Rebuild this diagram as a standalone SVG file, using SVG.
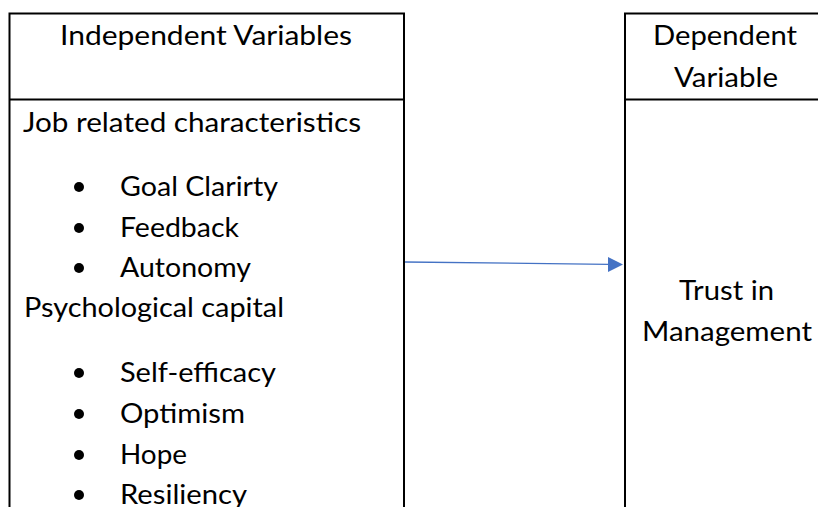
<svg xmlns="http://www.w3.org/2000/svg" width="818" height="507" viewBox="0 0 818 507">
<style>
.t{font-family:Lato,"Open Sans","Liberation Sans",sans-serif;font-size:27px;fill:#000}
.m{text-anchor:middle}
.b{stroke:#000;stroke-width:2;fill:none}
</style>
<rect width="818" height="507" fill="#fff"/>
<g id="independent">
<path class="b" d="M9.5,520 V13.5 H404 V520 M9.5,99.5 H404"/>
<text class="t m" x="206" y="45" textLength="292" lengthAdjust="spacingAndGlyphs">Independent Variables</text>
<text class="t" x="23" y="131.5" textLength="338" lengthAdjust="spacingAndGlyphs">Job related characteristics</text>
<g fill="#000">
<circle cx="79" cy="187" r="5"/>
<circle cx="79" cy="228" r="5"/>
<circle cx="79" cy="268" r="5"/>
<circle cx="79" cy="373" r="5"/>
<circle cx="79" cy="414" r="5"/>
<circle cx="79" cy="455" r="5"/>
<circle cx="79" cy="495" r="5"/>
</g>
<text class="t" x="120" y="196" textLength="158" lengthAdjust="spacingAndGlyphs">Goal Clarirty</text>
<text class="t" x="120" y="237" textLength="119" lengthAdjust="spacingAndGlyphs">Feedback</text>
<text class="t" x="120" y="277" textLength="131" lengthAdjust="spacingAndGlyphs">Autonomy</text>
<text class="t" x="24" y="316.5" textLength="260" lengthAdjust="spacingAndGlyphs">Psychological capital</text>
<text class="t" x="120" y="382" textLength="156" lengthAdjust="spacingAndGlyphs">Self-efficacy</text>
<text class="t" x="120" y="423" textLength="125" lengthAdjust="spacingAndGlyphs">Optimism</text>
<text class="t" x="120" y="463.5" textLength="67" lengthAdjust="spacingAndGlyphs">Hope</text>
<text class="t" x="120" y="504" textLength="127" lengthAdjust="spacingAndGlyphs">Resiliency</text>
</g>
<g id="dependent">
<path class="b" d="M625,520 V13.5 H830 M625,99.5 H830"/>
<text class="t m" x="725" y="45" textLength="144" lengthAdjust="spacingAndGlyphs">Dependent</text>
<text class="t m" x="726" y="87" textLength="104" lengthAdjust="spacingAndGlyphs">Variable</text>
<text class="t m" x="726.5" y="299.5" textLength="95" lengthAdjust="spacingAndGlyphs">Trust in</text>
<text class="t m" x="727" y="341" textLength="170" lengthAdjust="spacingAndGlyphs">Management</text>
</g>
<g id="connectors">
<line x1="405" y1="262" x2="609" y2="264.3" stroke="#4472C4" stroke-width="1.3"/>
<polygon points="608,257 623,264.5 608,272" fill="#4472C4"/>
</g>
</svg>
